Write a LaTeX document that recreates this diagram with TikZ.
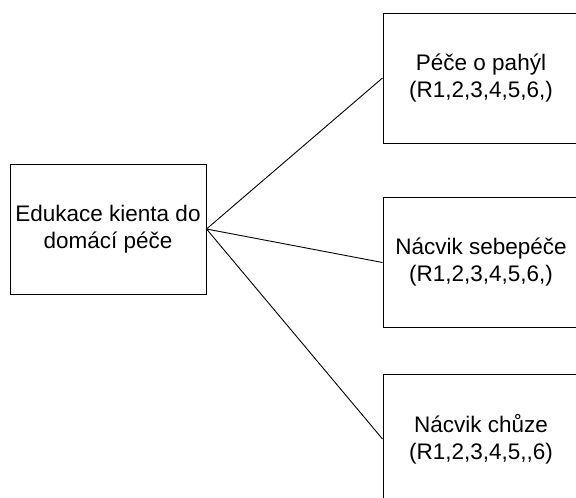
\documentclass[tikz,border=0pt]{standalone}
\usepackage{fontspec}
\setmainfont{Liberation Sans}
\begin{document}
\begin{tikzpicture}[x=1pt,y=-1pt,
  box/.style={draw=black,line width=1pt,minimum width=196pt,minimum height=130pt,
    inner sep=0pt,align=center,font=\fontsize{22.5}{27}\selectfont},
  conn/.style={draw=black,line width=0.9pt}]
\useasboundingbox (0,0) rectangle (576,498);
\begin{scope}
\clip (0,0) rectangle (576,498);
\node[box] (edu) at (108,229) {Edukace kienta do\\domácí péče};
\node[box] (pahyl) at (481,78) {Péče o pahýl\\(R1,2,3,4,5,6,)};
\node[box] (sebe) at (481,262.5) {Nácvik sebepéče\\(R1,2,3,4,5,6,)};
\node[box] (chuze) at (481,439) {Nácvik chůze\\(R1,2,3,4,5,{},6)};
\draw[conn] (edu.east) -- (pahyl.west);
\draw[conn] (edu.east) -- (sebe.west);
\draw[conn] (edu.east) -- (chuze.west);
\end{scope}
\end{tikzpicture}
\end{document}
